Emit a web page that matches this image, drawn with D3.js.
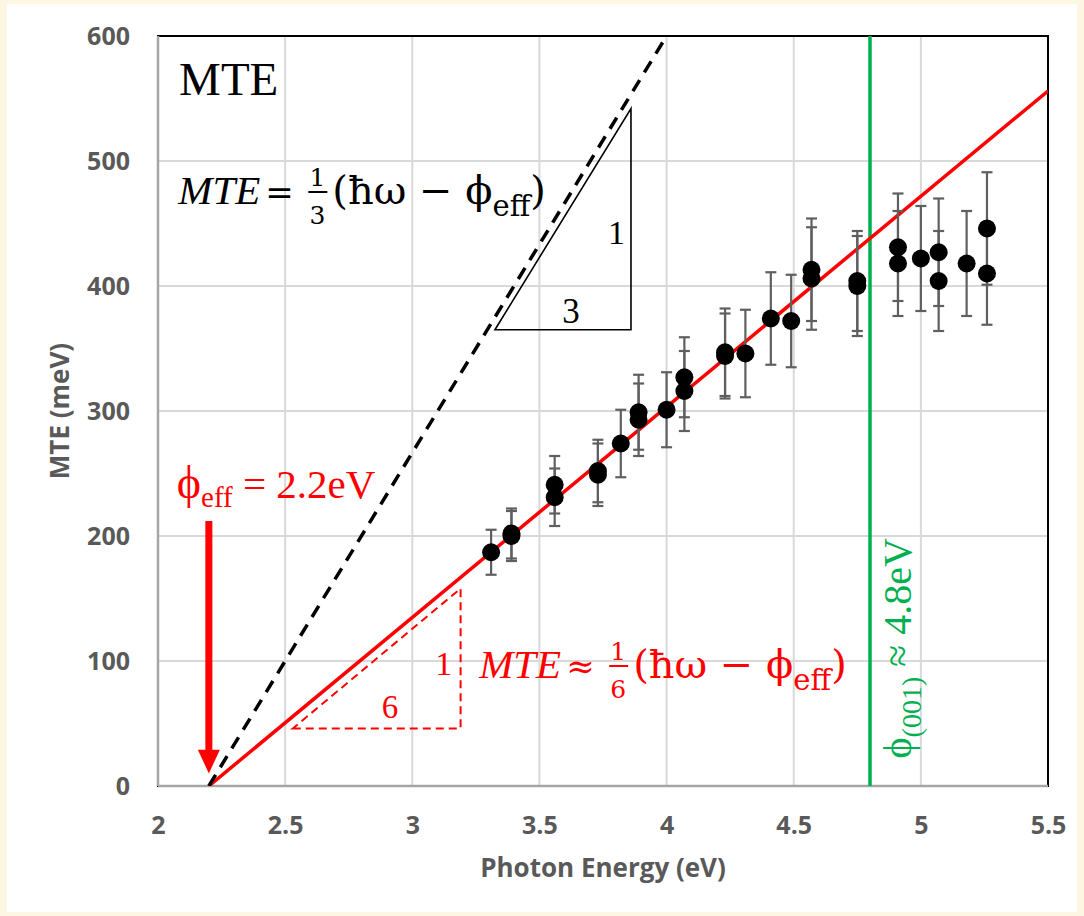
<!DOCTYPE html>
<html>
<head>
<meta charset="utf-8">
<script src="https://cdn.jsdelivr.net/npm/d3@7"></script>
<style>
  body { margin: 0; background: #fdf6e3; }
  svg { display: block; }
</style>
</head>
<body>
<svg id="chart" width="1084" height="916"></svg>
<script>
// data
var xTicks = [2, 2.5, 3, 3.5, 4, 4.5, 5, 5.5];
var yTicks = [0, 100, 200, 300, 400, 500, 600];

var energy = [3.31, 3.39, 3.39, 3.56, 3.56, 3.73, 3.73, 3.82, 3.89, 3.89, 4.00, 4.07, 4.07, 4.23, 4.23,
              4.31, 4.41, 4.49, 4.57, 4.57, 4.75, 4.75, 4.91, 4.91, 5.00, 5.07, 5.07, 5.18, 5.26, 5.26];
var mte    = [187, 200, 202, 241, 231, 252, 249, 274, 299, 293, 301, 327, 316, 347, 344,
              346, 374, 372, 413, 406, 404, 400, 431, 418, 422, 427, 404, 418, 446, 410];
var mteErr = [18, 20, 20, 23, 23, 25, 25, 27, 30, 29, 30, 32, 32, 35, 34,
              35, 37, 37, 41, 41, 40, 40, 43, 42, 42, 43, 40, 42, 45, 41];

var fitX = [2.2, 5.5], fitY = [0, 556];          // red line, ~1/6 slope
var thirdX = [2.2, 4.0], thirdY = [0, 600];      // black dashed, 1/3 slope
var tri3X = [3.325, 3.86, 3.86], tri3Y = [365, 365, 542];
var tri6X = [2.53, 3.19, 3.19], tri6Y = [46, 46, 158];
var phiEff = 2.2, phi001 = 4.8;

var svg = d3.select("#chart");
var W = 1084, H = 916;
var pLeft = 158, pRight = 1048, pTop = 36, pBottom = 786;

svg.append("rect").attr("x", 7).attr("y", 4).attr("width", W - 14).attr("height", H - 8).attr("fill", "#fff");

var x = d3.scaleLinear().domain([2, 5.5]).range([pLeft, pRight]);
var y = d3.scaleLinear().domain([0, 600]).range([pBottom, pTop]);

var defs = svg.append("defs");
defs.append("clipPath").attr("id", "clip").append("rect")
    .attr("x", pLeft).attr("y", pTop).attr("width", pRight - pLeft).attr("height", pBottom - pTop);

// gridlines
var grid = svg.append("g");
grid.selectAll(".vg").data(xTicks.slice(1, -1)).enter().append("line")
    .attr("x1", d => x(d)).attr("x2", d => x(d)).attr("y1", pTop).attr("y2", pBottom)
    .attr("stroke", "#d9d9d9").attr("stroke-width", 2);
grid.selectAll(".hg").data(yTicks.slice(1, -1)).enter().append("line")
    .attr("x1", pLeft).attr("x2", pRight).attr("y1", d => y(d)).attr("y2", d => y(d))
    .attr("stroke", "#d9d9d9").attr("stroke-width", 2);

// plot border
svg.append("rect").attr("x", pLeft).attr("y", pTop).attr("width", pRight - pLeft).attr("height", pBottom - pTop)
    .attr("fill", "none").attr("stroke", "#000").attr("stroke-width", 2);
svg.append("line").attr("x1", pLeft).attr("x2", pLeft).attr("y1", pTop).attr("y2", pBottom)
    .attr("stroke", "#a6a6a6").attr("stroke-width", 2.5);
svg.append("line").attr("x1", pLeft).attr("x2", pRight).attr("y1", pBottom).attr("y2", pBottom)
    .attr("stroke", "#a6a6a6").attr("stroke-width", 2.5);

// axes
var axisFont = "'Open Sans', sans-serif";
var xAxis = svg.append("g").attr("transform", "translate(0," + pBottom + ")")
    .call(d3.axisBottom(x).tickValues(xTicks).tickSize(0).tickPadding(30).tickFormat(d3.format("~g")));
var yAxis = svg.append("g").attr("transform", "translate(" + pLeft + ",0)")
    .call(d3.axisLeft(y).tickValues(yTicks).tickSize(0).tickPadding(28));
[xAxis, yAxis].forEach(function (a) {
    a.select(".domain").remove();
    a.selectAll("text").attr("fill", "#595959").style("font-family", axisFont)
        .style("font-size", "25px").style("font-weight", 700);
});

svg.append("text").attr("x", (pLeft + pRight) / 2).attr("y", 877).attr("text-anchor", "middle")
    .attr("fill", "#595959").style("font-family", axisFont).style("font-size", "26px").style("font-weight", 700)
    .text("Photon Energy (eV)");
svg.append("text").attr("transform", "translate(69," + (pTop + pBottom) / 2 + ") rotate(-90)")
    .attr("text-anchor", "middle")
    .attr("fill", "#595959").style("font-family", axisFont).style("font-size", "26px").style("font-weight", 700)
    .text("MTE (meV)");

var plot = svg.append("g").attr("clip-path", "url(#clip)");
var line = d3.line().x(d => x(d[0])).y(d => y(d[1]));

// green work function line
plot.append("line").attr("x1", x(phi001)).attr("x2", x(phi001)).attr("y1", pTop).attr("y2", pBottom)
    .attr("stroke", "#00b050").attr("stroke-width", 3.5);

// fit and 1/3 lines
plot.append("path").attr("d", line(d3.zip(fitX, fitY)))
    .attr("fill", "none").attr("stroke", "#ff0000").attr("stroke-width", 3.5);
plot.append("path").attr("d", line(d3.zip(thirdX, thirdY)))
    .attr("fill", "none").attr("stroke", "#000").attr("stroke-width", 3.5).attr("stroke-dasharray", "13,9");

// slope triangles
plot.append("path").attr("d", line(d3.zip(tri3X, tri3Y)) + "Z")
    .attr("fill", "none").attr("stroke", "#000").attr("stroke-width", 1.6);
plot.append("path").attr("d", line(d3.zip(tri6X, tri6Y)) + "Z")
    .attr("fill", "none").attr("stroke", "#ff0000").attr("stroke-width", 2).attr("stroke-dasharray", "8,5");

// error bars
var pts = d3.range(energy.length).map(i => ({ e: energy[i], m: mte[i], s: mteErr[i] }));
var eb = plot.append("g").attr("stroke", "#5f5f5f").attr("stroke-width", 2.2);
eb.selectAll(".v").data(pts).enter().append("line")
    .attr("x1", d => x(d.e)).attr("x2", d => x(d.e))
    .attr("y1", d => y(d.m - d.s)).attr("y2", d => y(d.m + d.s));
eb.selectAll(".t").data(pts).enter().append("line")
    .attr("x1", d => x(d.e) - 5.5).attr("x2", d => x(d.e) + 5.5)
    .attr("y1", d => y(d.m + d.s)).attr("y2", d => y(d.m + d.s));
eb.selectAll(".b").data(pts).enter().append("line")
    .attr("x1", d => x(d.e) - 5.5).attr("x2", d => x(d.e) + 5.5)
    .attr("y1", d => y(d.m - d.s)).attr("y2", d => y(d.m - d.s));

plot.selectAll(".pt").data(pts).enter().append("circle")
    .attr("cx", d => x(d.e)).attr("cy", d => y(d.m)).attr("r", 9).attr("fill", "#000");

// red arrow down to phi_eff
var ax = x(phiEff);
svg.append("rect").attr("x", ax - 3.5).attr("y", y(212)).attr("width", 7).attr("height", y(28) - y(212))
    .attr("fill", "#ff0000");
svg.append("path")
    .attr("d", "M" + (ax - 11) + "," + y(29) + "L" + (ax + 11) + "," + y(29) + "L" + ax + "," + y(10) + "Z")
    .attr("fill", "#ff0000");

// annotations
var serif = "'Liberation Serif', 'Times New Roman', serif";
var mathF = "'DejaVu Serif', serif";

svg.append("text").attr("x", x(2.083)).attr("y", y(552.8)).attr("fill", "#000")
    .style("font-family", serif).style("font-size", "47px").text("MTE");

function equation(x0, base, rel, den, color) {
    var g = svg.append("g").attr("fill", color);
    g.append("text").attr("x", x0).attr("y", base).style("font-family", serif)
        .style("font-size", "41px").style("font-style", "italic").text("MTE");
    g.append("text").attr("x", x0 + 87).attr("y", base).style("font-family", mathF)
        .style("font-size", "34px").text(rel);
    g.append("text").attr("x", x0 + 139).attr("y", base - 18).attr("text-anchor", "middle")
        .style("font-family", mathF).style("font-size", "25px").text("1");
    g.append("line").attr("x1", x0 + 130).attr("x2", x0 + 149).attr("y1", base - 12).attr("y2", base - 12)
        .attr("stroke", color).attr("stroke-width", 2);
    g.append("text").attr("x", x0 + 139).attr("y", base + 20).attr("text-anchor", "middle")
        .style("font-family", mathF).style("font-size", "25px").text(den);
    var t = g.append("text").attr("x", x0 + 154).attr("y", base).style("font-family", mathF).style("font-size", "40px");
    t.append("tspan").text("(ħω − ϕ");
    t.append("tspan").attr("dy", 12).style("font-size", "29px").text("eff");
    t.append("tspan").attr("dy", -12).text(")");
}
equation(x(2.08), y(465.6), "=", "3", "#000");
equation(x(3.263), y(86.4), "≈", "6", "#ff0000");

var pl = svg.append("text").attr("x", x(2.074)).attr("y", y(230.4)).attr("fill", "#ff0000")
    .style("font-family", serif).style("font-size", "41px");
pl.append("tspan").style("font-size", "46px").text("ϕ");
pl.append("tspan").attr("dy", 9).style("font-size", "29px").text("eff");
pl.append("tspan").attr("dy", -9).text(" = 2.2eV");

svg.append("text").attr("x", x(3.77)).attr("y", y(433.6)).style("font-family", serif)
    .style("font-size", "34px").attr("fill", "#000").text("1");
svg.append("text").attr("x", x(3.59)).attr("y", y(370.4)).style("font-family", serif)
    .style("font-size", "35px").attr("fill", "#000").text("3");
svg.append("text").attr("x", x(3.09)).attr("y", y(88.8)).style("font-family", serif)
    .style("font-size", "34px").attr("fill", "#ff0000").text("1");
svg.append("text").attr("x", x(2.88)).attr("y", y(54.4)).style("font-family", serif)
    .style("font-size", "33px").attr("fill", "#ff0000").text("6");

var gt = svg.append("text").attr("transform", "translate(" + x(4.96) + "," + y(22) + ") rotate(-90)")
    .attr("fill", "#00b050").style("font-family", serif).style("font-size", "40px");
gt.append("tspan").text("ϕ");
gt.append("tspan").attr("dy", 10).style("font-size", "28px").text("(001)");
gt.append("tspan").attr("dy", -10).text(" ≈ 4.8eV");
</script>
</body>
</html>
